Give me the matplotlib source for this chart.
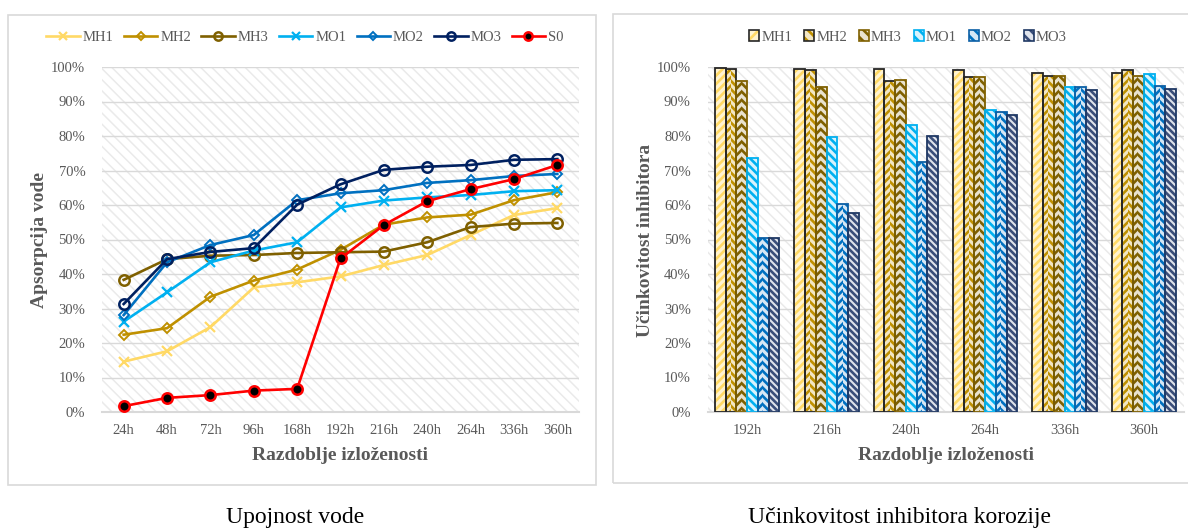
import matplotlib
matplotlib.use('Agg')
import matplotlib.pyplot as plt
import numpy as np
from matplotlib.patches import Rectangle, Patch
from matplotlib.ticker import FuncFormatter, MultipleLocator

plt.rcParams['font.family'] = ['Liberation Serif', 'DejaVu Serif']
plt.rcParams['hatch.linewidth'] = 1.9

# ---------------- data: water absorption (%) ----------------
times_line = ['24h', '48h', '72h', '96h', '168h', '192h', '216h', '240h', '264h', '336h', '360h']
abs_mh1 = [14.6, 17.6, 24.6, 36.1, 37.6, 39.3, 42.6, 45.5, 51.3, 57.1, 59.1]
abs_mh2 = [22.4, 24.3, 33.4, 38.1, 41.3, 47.0, 54.3, 56.4, 57.2, 61.4, 63.7]
abs_mh3 = [38.3, 44.3, 45.3, 45.5, 46.1, 46.3, 46.5, 49.2, 53.6, 54.6, 54.8]
abs_mo1 = [26.2, 34.7, 43.4, 46.8, 49.2, 59.3, 61.3, 62.2, 62.9, 64.0, 64.3]
abs_mo2 = [28.1, 43.4, 48.4, 51.3, 61.4, 63.4, 64.3, 66.4, 67.2, 68.4, 69.0]
abs_mo3 = [31.3, 44.3, 46.4, 47.5, 60.1, 66.0, 70.2, 71.1, 71.6, 73.1, 73.3]
abs_s0 = [1.7, 4.1, 4.9, 6.2, 6.7, 44.5, 54.2, 61.1, 64.6, 67.5, 71.6]

# ---------------- data: inhibitor efficiency (%) ----------------
times_bar = ['192h', '216h', '240h', '264h', '336h', '360h']
eff_mh1 = [99.6, 99.4, 99.4, 99.0, 98.4, 98.4]
eff_mh2 = [99.3, 99.2, 96.0, 97.0, 97.5, 99.0]
eff_mh3 = [95.8, 94.2, 96.2, 97.0, 97.4, 97.4]
eff_mo1 = [73.5, 79.7, 83.2, 87.5, 94.1, 98.0]
eff_mo2 = [50.4, 60.2, 72.5, 87.1, 94.1, 94.4]
eff_mo3 = [50.4, 57.6, 80.0, 86.1, 93.2, 93.6]

W, H = 1188, 529
fig = plt.figure(figsize=(W / 100, H / 100), dpi=100)
fig.patch.set_facecolor('white')

def fr(x0, y0, x1, y1):
    return [x0 / W, 1 - y1 / H, (x1 - x0) / W, (y1 - y0) / H]

GRID = '#D9D9D9'
TXT = '#595959'

def thin_hatch(p, lw):
    if hasattr(p, 'set_hatch_linewidth'):
        try:
            p.set_hatch_linewidth(lw)
        except Exception:
            pass

# panel frames
fig.patches.append(Rectangle((8 / W, 1 - 485 / H), (596 - 8) / W, (485 - 15) / H,
                             transform=fig.transFigure, fill=False, ec=GRID, lw=1.2))
fig.patches.append(Rectangle((613 / W, 1 - 483 / H), (1200 - 613) / W, (483 - 14) / H,
                             transform=fig.transFigure, fill=False, ec=GRID, lw=1.2))

def style_axes(ax):
    ax.set_ylim(0, 100)
    ax.yaxis.set_major_locator(MultipleLocator(10))
    ax.yaxis.set_major_formatter(FuncFormatter(lambda v, p: f'{v:.0f}%'))
    ax.set_axisbelow(True)
    ax.grid(axis='y', color=GRID, lw=1.0, zorder=0.5)
    for s in ['left', 'right', 'top']:
        ax.spines[s].set_visible(False)
    ax.spines['bottom'].set_color(GRID)
    ax.spines['bottom'].set_linewidth(1.5)
    ax.tick_params(length=0, labelsize=10.5, labelcolor=TXT)
    ax.tick_params(axis='y', pad=12)
    ax.tick_params(axis='x', pad=9)
    ax.set_facecolor('white')
    bg = Rectangle((0, 0), 1, 1, transform=ax.transAxes, facecolor='white',
                   edgecolor='#EAEAEA', hatch='\\\\\\', lw=0, zorder=0.1)
    thin_hatch(bg, 1.1)
    ax.add_patch(bg)

# ---------------- left: line chart ----------------
ax1 = fig.add_axes(fr(102, 67, 579, 412))
style_axes(ax1)
xl = np.arange(len(times_line))
ax1.set_xlim(-0.5, len(times_line) - 0.5)
ax1.set_xticks(xl)
ax1.set_xticklabels(times_line)

line_specs = [
    ('MH1', abs_mh1, '#FFD966', dict(marker='x', ms=7, mew=1.6)),
    ('MH2', abs_mh2, '#BF9000', dict(marker='D', ms=5, mew=1.4, mfc='none')),
    ('MH3', abs_mh3, '#7F6000', dict(marker='o', ms=7.5, mew=1.8, mfc='none')),
    ('MO1', abs_mo1, '#00B0F0', dict(marker='x', ms=7, mew=1.6)),
    ('MO2', abs_mo2, '#0070C0', dict(marker='D', ms=5, mew=1.4, mfc='none')),
    ('MO3', abs_mo3, '#002060', dict(marker='o', ms=7.5, mew=1.8, mfc='none')),
    ('S0', abs_s0, '#FF0000', dict(marker='o', ms=7.5, mew=1.8, mfc='black')),
]
handles = []
for name, vals, col, mk in line_specs:
    ln, = ax1.plot(xl, vals, color=col, lw=1.9, label=name, zorder=3, **mk)
    handles.append(ln)

ax1.legend(handles=handles, loc='center', bbox_to_anchor=((305 - 102) / 477, 1 + 30 / 345),
           ncol=7, frameon=False, fontsize=10.5, labelcolor=TXT, handlelength=2.3,
           columnspacing=0.7, handletextpad=0.2, borderaxespad=0, markerscale=0.8)

fig.text(40 / W, 1 - 240 / H, 'Apsorpcija vode', rotation=90, ha='center', va='center',
         fontsize=14, fontweight='bold', color=TXT)
fig.text(340.5 / W, 1 - 455 / H, 'Razdoblje izloženosti', ha='center', va='center',
         fontsize=14, fontweight='bold', color=TXT)
fig.text(295.5 / W, 1 - 517 / H, 'Upojnost vode', ha='center', va='center',
         fontsize=17, color='black')

# ---------------- right: bar chart ----------------
ax2 = fig.add_axes(fr(707.5, 67, 1183.5, 412))
style_axes(ax2)
xb = np.arange(len(times_bar))
ax2.set_xlim(-0.5, len(times_bar) - 0.5)
ax2.set_xticks(xb)
ax2.set_xticklabels(times_bar)

# name, values, hatch colour, face tint, edge colour, hatch style
bar_specs = [
    ('MH1', eff_mh1, '#FFD966', '#FFF3D0', '#262626', '/'),
    ('MH2', eff_mh2, '#BF9000', '#F2E6C4', '#262626', 'chevron'),
    ('MH3', eff_mh3, '#7F6000', '#E9E2CE', '#7F6000', 'chevron'),
    ('MO1', eff_mo1, '#00B0F0', '#D8F2FC', '#00B0F0', '\\'),
    ('MO2', eff_mo2, '#0070C0', '#D6E7F5', '#0B5FA5', 'chevron'),
    ('MO3', eff_mo3, '#3A4E7A', '#E0E4EC', '#1F3864', 'fine'),
]
nb = len(bar_specs)
bw = 0.135
bhandles = []
for i, (name, vals, hcol, face, ecol, hs) in enumerate(bar_specs):
    pos = xb + (i - (nb - 1) / 2) * bw
    if hs == 'chevron':
        ax2.bar(pos - bw / 4, vals, bw / 2, color=face, edgecolor=hcol,
                hatch='////', lw=0, zorder=2)
        ax2.bar(pos + bw / 4, vals, bw / 2, color=face, edgecolor=hcol,
                hatch='\\\\\\\\', lw=0, zorder=2)
        lh = '\\\\\\'
    elif hs == 'fine':
        ax2.bar(pos, vals, bw, color=face, edgecolor=hcol,
                hatch='\\\\\\\\\\', lw=0, zorder=2)
        lh = '\\\\\\'
    else:
        ax2.bar(pos, vals, bw, color=face, edgecolor=hcol,
                hatch=hs * 4, lw=0, zorder=2)
        lh = hs * 3
    ax2.bar(pos, vals, bw, color='none', edgecolor=ecol, lw=1.3, zorder=3)
    p1 = Patch(facecolor=face, edgecolor=hcol, hatch=lh, lw=0)
    p2 = Patch(facecolor='none', edgecolor=ecol, lw=1.2)
    bhandles.append((p1, p2))

ax2.legend(handles=bhandles, labels=[s[0] for s in bar_specs], loc='center',
           bbox_to_anchor=((908 - 707.5) / 476, 1 + 30 / 345), ncol=6, frameon=False,
           fontsize=10.5, labelcolor=TXT, handlelength=0.7, handleheight=0.7,
           columnspacing=0.8, handletextpad=0.15, borderaxespad=0)

fig.text(645 / W, 1 - 240 / H, 'Učinkovitost inhibitora', rotation=90, ha='center', va='center',
         fontsize=14, fontweight='bold', color=TXT)
fig.text(945.5 / W, 1 - 455 / H, 'Razdoblje izloženosti', ha='center', va='center',
         fontsize=14, fontweight='bold', color=TXT)
fig.text(900 / W, 1 - 517 / H, 'Učinkovitost inhibitora korozije', ha='center', va='center',
         fontsize=17, color='black')

fig.savefig('out.png', dpi=100, facecolor='white')
